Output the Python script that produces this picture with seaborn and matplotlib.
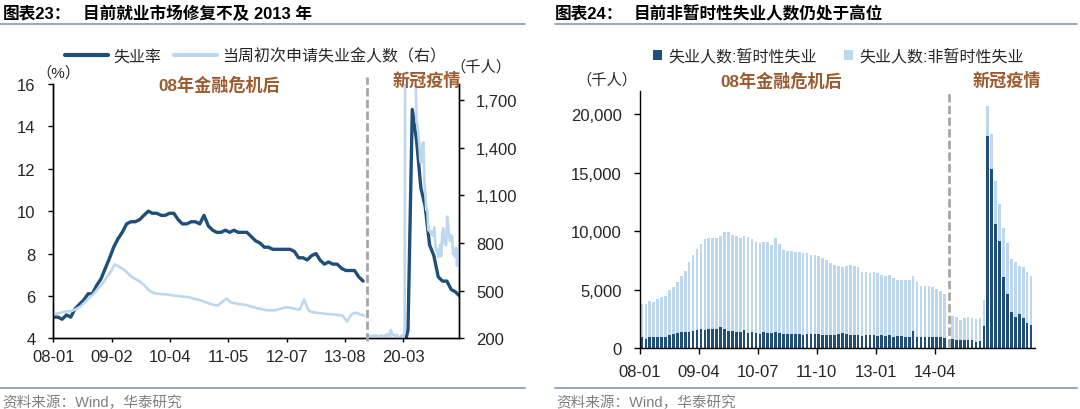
import numpy as np
import pandas as pd
import matplotlib
matplotlib.use("Agg")
import matplotlib.pyplot as plt
import seaborn as sns
from matplotlib.lines import Line2D
from matplotlib.patches import Patch
from matplotlib.ticker import FuncFormatter

sns.set_theme(style="ticks")
plt.rcParams['font.family'] = ['Liberation Sans', 'Noto Sans CJK SC']
plt.rcParams['axes.unicode_minus'] = False

DARK = '#1F4E79'
LIGHT = '#BDD7EE'
BROWN = '#9C5A2E'
DASH_GRAY = '#A6A6A6'
RULE = '#8EA0B8'
TXT = '#262626'
SRC = '#7F7F7F'

# ================= 图表23 data =================
# 失业率 (%), monthly, segment 2007-12 .. 2013-12
ur_months_a = pd.period_range('2007-12', '2013-12', freq='M')
ur_a = [5.0,
        5.0, 4.9, 5.1, 5.0, 5.4, 5.6, 5.8, 6.1, 6.1, 6.5, 6.8, 7.3,
        7.8, 8.3, 8.7, 9.0, 9.4, 9.5, 9.5, 9.6, 9.8, 10.0, 9.9, 9.9,
        9.8, 9.8, 9.9, 9.9, 9.6, 9.4, 9.4, 9.5, 9.5, 9.4, 9.8, 9.3,
        9.1, 9.0, 9.0, 9.1, 9.0, 9.1, 9.0, 9.0, 9.0, 8.8, 8.6, 8.5,
        8.3, 8.3, 8.2, 8.2, 8.2, 8.2, 8.2, 8.1, 7.8, 7.8, 7.7, 7.9,
        8.0, 7.7, 7.5, 7.6, 7.5, 7.5, 7.3, 7.2, 7.2, 7.2, 6.9, 6.7]
# 失业率 (%), monthly, segment 2019-06 .. 2021-03
ur_months_b = pd.period_range('2019-06', '2021-03', freq='M')
ur_b = [3.6, 3.7, 3.7, 3.5, 3.6, 3.6, 3.6,
        3.5, 3.5, 4.4, 14.8, 13.3, 11.1, 10.2, 8.4, 7.9, 6.9, 6.7, 6.7,
        6.3, 6.2, 6.0]

# 当周初次申请失业金人数 (千人), monthly level, 2007-12 .. 2014-01
claims_months_a = pd.period_range('2007-12', '2014-01', freq='M')
claims_a = [345,
            354, 358, 365, 370, 372, 385, 400, 427, 455, 478, 511, 540,
            580, 620, 665, 650, 635, 610, 585, 570, 553, 530, 500, 485,
            480, 478, 476, 473, 468, 465, 462, 460, 452, 445, 438, 428,
            418, 410, 406, 430, 450, 427, 420, 415, 412, 406, 398, 390,
            385, 378, 376, 375, 382, 390, 396, 390, 385, 380, 445, 375,
            364, 360, 358, 354, 352, 350, 346, 343, 305, 350, 362, 350,
            343]
# weekly, 2019-06-29 .. 2021-04-17
claims_weeks_b = pd.date_range('2019-06-29', '2021-04-17', freq='7D')
claims_b = [221, 209, 216, 206, 215, 209, 220, 209, 216, 217, 204, 208, 213, 220,
            210, 214, 212, 218, 211, 225, 227, 213, 203, 252, 235, 222, 223,
            214, 204, 223, 216, 202, 205, 210, 219, 216, 211, 251, 3307, 6867,
            6615, 5237, 4442, 3867, 3176, 2687, 2446, 2123, 1897, 1566, 1540,
            1482, 1413, 1310, 1307, 1422, 1434, 1186, 1104, 1006, 1011, 881,
            884, 866, 873, 849, 845, 898, 787, 751, 757, 711, 748, 787, 716,
            862, 892, 806, 790,
            787, 965, 914, 847, 812, 848, 841, 730, 754, 712, 770, 658, 728,
            769, 576, 566]
left_tick_labels = ['08-01', '09-02', '10-04', '11-05', '12-07', '13-08', '20-03']

# ================= 图表24 data (千人) =================
temp_a = [950, 800, 950, 1000, 970, 970, 970, 1150, 1220, 1280, 1360, 1380,
          1420, 1500, 1570, 1650, 1600, 1620, 1650, 1680, 1820, 1620, 1500, 1450,
          1400, 1420, 1570, 1350, 1380, 1300, 1250, 1380, 1350, 1300, 1400, 1350,
          1250, 1200, 1220, 1200, 1180, 1150, 1200, 1180, 1220, 1250, 1150, 1150,
          1120, 1150, 1200, 1300, 1180, 1150, 1120, 1100, 1080, 1150, 1100, 1120,
          1050, 1100, 1080, 1120, 1000, 1050, 1020, 950, 950, 1450, 1000, 950,
          950, 1000, 950, 980, 950, 920]
nontemp_a = [2850, 2950, 3050, 2980, 3230, 3380, 3530, 3800, 3980, 4420, 4840, 5220,
             5980, 6500, 6930, 7250, 7700, 7780, 7800, 7720, 7780, 8330, 8400, 8250,
             8200, 8030, 8030, 8150, 7920, 7800, 7750, 7720, 7700, 7550, 8050, 7550,
             7150, 7100, 7080, 7050, 7020, 7000, 6900, 6820, 6780, 6650, 6600, 6350,
             6180, 6000, 5800, 5600, 5820, 5950, 5930, 5800, 5420, 5350, 5350, 5430,
             5350, 5200, 5070, 5130, 5000, 4800, 4780, 4900, 4850, 4750, 4650, 4400,
             4350, 4300, 4250, 4070, 3950, 3730]
temp_b = [780, 720, 700, 720, 700, 680, 550, 620, 1940, 18100, 15300, 10600,
          9200, 6100, 4600, 3100, 2700, 2950, 2600, 2150, 2000]
nontemp_b = [1950, 1980, 1750, 1900, 2000, 1940, 1950, 1940, 2190, 2600, 3000, 3700,
             3100, 4150, 4370, 4530, 4640, 4110, 4320, 4400, 4200]
right_tick_labels = ['08-01', '09-04', '10-07', '11-10', '13-01', '14-04']


def to_pos(dates, anchor, offset):
    d = pd.DatetimeIndex(dates)
    return offset + (d - pd.Timestamp(anchor)).days.values / 7.0


fig = plt.figure(figsize=(10.8, 4.1), dpi=100)

# ---------------- left chart ----------------
ax1 = fig.add_axes([0.0494, 0.1724, 0.3752, 0.6203])
ax1b = ax1.twinx()

rel_a = (ur_months_a + 1).to_timestamp() + pd.Timedelta(days=6)
rel_b = (ur_months_b + 1).to_timestamp() + pd.Timedelta(days=6)
x_ur_a = to_pos(rel_a, '2008-01-05', 0)
x_ur_b = to_pos(rel_b, '2020-03-04', 354)
x_cl_a = to_pos(claims_months_a.to_timestamp() + pd.Timedelta(days=14), '2008-01-05', 0)
x_cl_b = to_pos(claims_weeks_b, '2020-03-04', 354)

sns.lineplot(x=x_ur_a, y=ur_a, ax=ax1, color=DARK, linewidth=2.4, errorbar=None, legend=False)
sns.lineplot(x=x_ur_b, y=ur_b, ax=ax1, color=DARK, linewidth=2.4, errorbar=None, legend=False)
sns.lineplot(x=x_cl_a, y=claims_a, ax=ax1b, color=LIGHT, linewidth=1.9, errorbar=None, legend=False)
sns.lineplot(x=x_cl_b, y=claims_b, ax=ax1b, color=LIGHT, linewidth=1.9, errorbar=None, legend=False)

ax1.set_xlim(0, 410)
ax1.set_ylim(4, 16)
ax1.set_yticks(np.arange(4, 17, 2))
ax1b.set_ylim(200, 1800)
ax1b.set_yticks(np.arange(200, 1701, 300))
ax1b.yaxis.set_major_formatter(FuncFormatter(lambda v, p: f'{int(v):,}'))
ax1.set_xticks([0, 59, 118, 177, 236, 295, 354])
ax1.set_xticklabels(left_tick_labels)
for a in (ax1, ax1b):
    a.set_xlabel('')
    a.set_ylabel('')
    a.spines['top'].set_visible(False)
    for s in ('left', 'right', 'bottom'):
        a.spines[s].set_color('black')
        a.spines[s].set_linewidth(1.0)
ax1.tick_params(axis='y', direction='out', length=3.7, width=1, color='black',
                labelsize=12, labelcolor=TXT, pad=9)
ax1.tick_params(axis='x', direction='out', length=3, width=1, color='black',
                labelsize=12, labelcolor=TXT, pad=5)
ax1b.tick_params(axis='y', direction='out', length=3.7, width=1, color='black',
                 labelsize=12, labelcolor=TXT, pad=9)
ax1b.axvline(317, ymin=-0.012, ymax=1.027, color=DASH_GRAY, lw=2.0,
             dashes=(3, 1.2), clip_on=False, zorder=5)

# ---------------- right chart ----------------
ax2 = fig.add_axes([0.5926, 0.1480, 0.3657, 0.6286])
pos = np.r_[np.arange(len(temp_a)), np.arange(len(temp_b)) + len(temp_a) + 1]
temp = np.r_[temp_a, temp_b]
nontemp = np.r_[nontemp_a, nontemp_b]
df24 = pd.DataFrame({'pos': pos, 'temp': temp, 'total': temp + nontemp})

sns.barplot(data=df24, x='pos', y='total', native_scale=True, color=LIGHT, saturation=1,
            width=0.68, errorbar=None, ax=ax2, linewidth=0)
sns.barplot(data=df24, x='pos', y='temp', native_scale=True, color=DARK, saturation=1,
            width=0.68, errorbar=None, ax=ax2, linewidth=0)
ax2.set_xlim(-0.5, 100)
ax2.set_ylim(0, 22000)
ax2.set_yticks(np.arange(0, 20001, 5000))
ax2.yaxis.set_major_formatter(FuncFormatter(lambda v, p: f'{int(v):,}'))
ax2.set_xticks([-0.5, 14.5, 29.5, 44.5, 59.5, 74.5])
ax2.set_xticklabels(right_tick_labels)
ax2.set_xlabel('')
ax2.set_ylabel('')
ax2.spines['top'].set_visible(False)
ax2.spines['right'].set_visible(False)
for s in ('left', 'bottom'):
    ax2.spines[s].set_color('black')
    ax2.spines[s].set_linewidth(1.0)
ax2.tick_params(axis='y', direction='out', length=4.3, width=1, color='black',
                labelsize=12, labelcolor=TXT, pad=9)
ax2.tick_params(axis='x', direction='out', length=4, width=1, color='black',
                labelsize=12, labelcolor=TXT, pad=7)
ax2.axvline(78, ymin=0.005, ymax=1.0, color=DASH_GRAY, lw=2.0,
            dashes=(3, 1.2), clip_on=False, zorder=5)

# ---------------- legends ----------------
h1 = [Line2D([], [], color=DARK, lw=3), Line2D([], [], color=LIGHT, lw=3)]
fig.legend(h1, ['失业率', '当周初次申请失业金人数（右）'], loc='center',
           bbox_to_anchor=(0.2366, 0.861), ncol=2, frameon=False, fontsize=11.5,
           handlelength=2.7, handletextpad=0.3, columnspacing=0.8,
           borderpad=0, borderaxespad=0, labelcolor=TXT)
h2 = [Patch(facecolor=DARK, edgecolor='none'), Patch(facecolor=LIGHT, edgecolor='none')]
fig.legend(h2, ['失业人数:暂时性失业', '失业人数:非暂时性失业'], loc='center',
           bbox_to_anchor=(0.7764, 0.861), ncol=2, frameon=False, fontsize=11.5,
           handlelength=0.55, handleheight=0.55, handletextpad=0.4, columnspacing=1.7,
           borderpad=0, borderaxespad=0, labelcolor=TXT)

# ---------------- texts ----------------
def ftext(xpx, ypx, s, **kw):
    fig.text(xpx / 1080, 1 - ypx / 410, s, **kw)

ftext(3, 14, '图表23：', fontsize=12, fontweight='bold', va='center', ha='left', color='black')
ftext(83, 14, '目前就业市场修复不及 2013 年', fontsize=12, fontweight='bold', va='center', ha='left', color='black')
ftext(555, 14, '图表24：', fontsize=12, fontweight='bold', va='center', ha='left', color='black')
ftext(634, 14, '目前非暂时性失业人数仍处于高位', fontsize=12, fontweight='bold', va='center', ha='left', color='black')

for (x0, x1, y) in [(0, 525, 24.8), (555, 1077, 24.8), (0, 525, 389.3), (555, 1077, 389.3)]:
    fig.add_artist(Line2D([x0 / 1080, x1 / 1080], [1 - y / 410, 1 - y / 410],
                          transform=fig.transFigure, color=RULE, lw=1.3))

ftext(2, 403, '资料来源：Wind，华泰研究', fontsize=10.5, color=SRC, va='center', ha='left')
ftext(556, 403, '资料来源：Wind，华泰研究', fontsize=10.5, color=SRC, va='center', ha='left')

ftext(58, 73, '（%）', fontsize=11, color=TXT, va='center', ha='center')
ftext(481, 67, '（千人）', fontsize=11, color=TXT, va='center', ha='center')
ftext(607, 80, '（千人）', fontsize=11, color=TXT, va='center', ha='center')

ftext(219, 85, '08年金融危机后', fontsize=12.3, fontweight='bold', color=BROWN, va='center', ha='center')
ftext(427, 80, '新冠疫情', fontsize=12.3, fontweight='bold', color=BROWN, va='center', ha='center')
ftext(781, 81, '08年金融危机后', fontsize=12.3, fontweight='bold', color=BROWN, va='center', ha='center')
ftext(1007, 80, '新冠疫情', fontsize=12.3, fontweight='bold', color=BROWN, va='center', ha='center')

fig.savefig('out.png', dpi=100)
